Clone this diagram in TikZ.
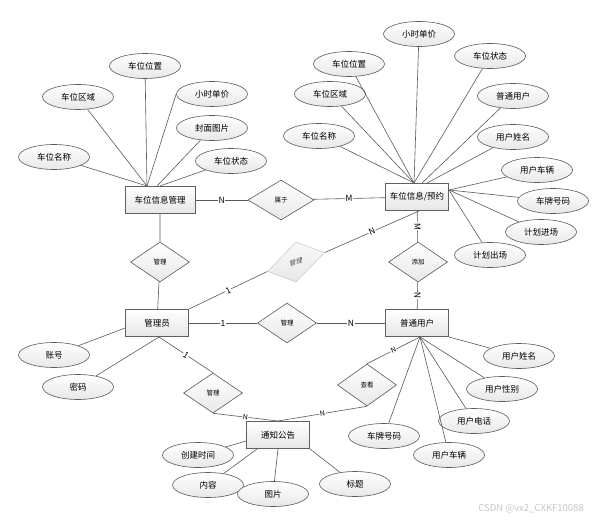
\documentclass[tikz,border=0pt]{standalone}
\usepackage{fontspec}
\setmainfont{Noto Sans CJK SC}
\usetikzlibrary{shapes.geometric}

\tikzset{
    entity/.style={draw=gray!75!black, line width=1pt, top color=white, bottom color=gray!20,
        minimum width=63pt, minimum height=27pt, inner sep=1pt, font=\fontsize{8.5}{9}\selectfont},
    attr/.style={ellipse, draw=gray!70!black, line width=0.6pt, top color=white, bottom color=gray!18,
        minimum width=71pt, minimum height=25pt, inner sep=0pt, font=\fontsize{8.5}{9}\selectfont},
    rel/.style={diamond, draw=gray!70!black, line width=0.6pt, top color=white, bottom color=gray!18,
        minimum width=59pt, minimum height=40pt, inner sep=0pt, font=\fontsize{6.5}{7}\selectfont},
    link/.style={draw=gray!70!black, line width=0.6pt},
    card/.style={fill=white, inner sep=0.6pt, sloped, font=\fontsize{8.5}{9}\selectfont},
}

\begin{document}
\begin{tikzpicture}[x=1pt,y=-1pt]
        \useasboundingbox (0,0) rectangle (601,521);

        % Entities
        \node[entity, minimum width=70pt] (park) at (160,200) {车位信息管理};
        \node[entity] (book) at (417,197) {车位信息/预约};
        \node[entity] (admin) at (157,323) {管理员};
        \node[entity] (user) at (417,323) {普通用户};
        \node[entity] (notice) at (278,435) {通知公告};

        % Relations
        \node[rel, minimum width=66pt] (belong) at (281,200) {属于};
        \node[rel] (mgr1) at (160,262) {管理};
        \node[rel, yslant=0.33, minimum width=57pt, draw=gray!40, top color=gray!5, bottom color=gray!18,
            text=gray!60!black] (mgr2) at (296,262) {管理};
        \node[rel] (mgr3) at (287,323) {管理};
        \node[rel] (add) at (418,262) {添加};
        \node[rel] (mgr4) at (213,393) {管理};
        \node[rel, minimum height=42pt] (view) at (367,385) {查看};

        % Joints where the attribute lines meet
        \coordinate (pj1) at ([xshift=-13pt]park.north);
        \coordinate (pj2) at ([xshift=-3pt]park.north);
        \coordinate (pj3) at (park.north);
        \coordinate (bt1) at ([xshift=-3pt]book.north);
        \coordinate (bt2) at ([xshift=5pt]book.north);
        \coordinate (bt3) at ([xshift=10pt]book.north);
        \coordinate (bj) at ([yshift=-7pt]book.north east);
        \coordinate (uj) at ([xshift=3pt]user.south);
        \coordinate (aj1) at ([yshift=-5pt]admin.west);
        \coordinate (aj2) at ([xshift=2pt]admin.south);
        \coordinate (nj1) at ([yshift=-6pt]notice.west);
        \coordinate (nj2) at ([xshift=-21pt]notice.south);

        % Attributes
        \node[attr] (pa4) at (212,94) {小时单价};
        \draw[link] (pa4.west) -- (pj1);
        \foreach \n/\x/\y/\t/\j in {pa1/54/157/车位名称/pj1, pa2/78/97/车位区域/pj1, pa3/145/66/车位位置/pj1,
                pa5/212/128/封面图片/pj2, pa6/231/161/车位状态/pj3,
                ba1/319/136/车位名称/bt1, ba2/330/94/车位区域/bt1, ba3/349/64/车位位置/bt1,
                ba4/419/34/小时单价/bt1, ba5/490/56/车位状态/bt1, ba6/513/96/普通用户/bt2,
                ba7/513/137/用户姓名/bt3, ba8/537/170/用户车辆/bj, ba9/553/201/车牌号码/bj,
                ba10/541/232/计划进场/bj, ba11/490/255/计划出场/bj,
                ua1/519/356/用户姓名/user.south east, ua2/502/389/用户性别/uj, ua3/474/421/用户电话/uj,
                ua4/384/436/车牌号码/uj, ua5/449/455/用户车辆/uj,
                aa1/54/355/账号/aj1, aa2/78/387/密码/aj2,
                na1/198/455/创建时间/nj1, na2/208/485/内容/nj2, na3/273/494/图片/notice.south,
                na4/355/484/标题/notice.south east}
           {
                \node[attr] (\n) at (\x,\y) {\t};
                \draw[link] (\n) -- (\j);
           }

        % Relationship lines
        \draw[link] (park) -- node[card] {N} (belong);
        \draw[link] (belong) -- node[card] {M} (book);
        \draw[link] (park) -- (mgr1) -- (admin);
        \draw[link] (admin.north east) -- node[card] {1} (mgr2.west);
        \draw[link] (mgr2.east) -- node[card] {N} ([xshift=2pt]book.south);
        \draw[link] (book) -- node[card] {M} (add);
        \draw[link] (add) -- node[card] {N} (user);
        \draw[link] (admin) -- node[card] {1} (mgr3);
        \draw[link] (mgr3) -- node[card] {N} (user);
        \draw[link] (aj2) -- node[card] {1} (mgr4.north);
        \draw[link] (mgr4.south) -- node[card, font=\fontsize{7}{8}\selectfont] {N} (notice.north);
        \draw[link] (view.south) -- node[card, font=\fontsize{7}{8}\selectfont] {N} (notice.north);
        \draw[link] (view.north) -- node[card, font=\fontsize{7}{8}\selectfont] {N} (uj);

        \node[text=gray!45, font=\fontsize{9.5}{10}\selectfont] (mark) at (531,509) {CSDN @vx2\_CXKF10088};
    \end{tikzpicture}
\end{document}
